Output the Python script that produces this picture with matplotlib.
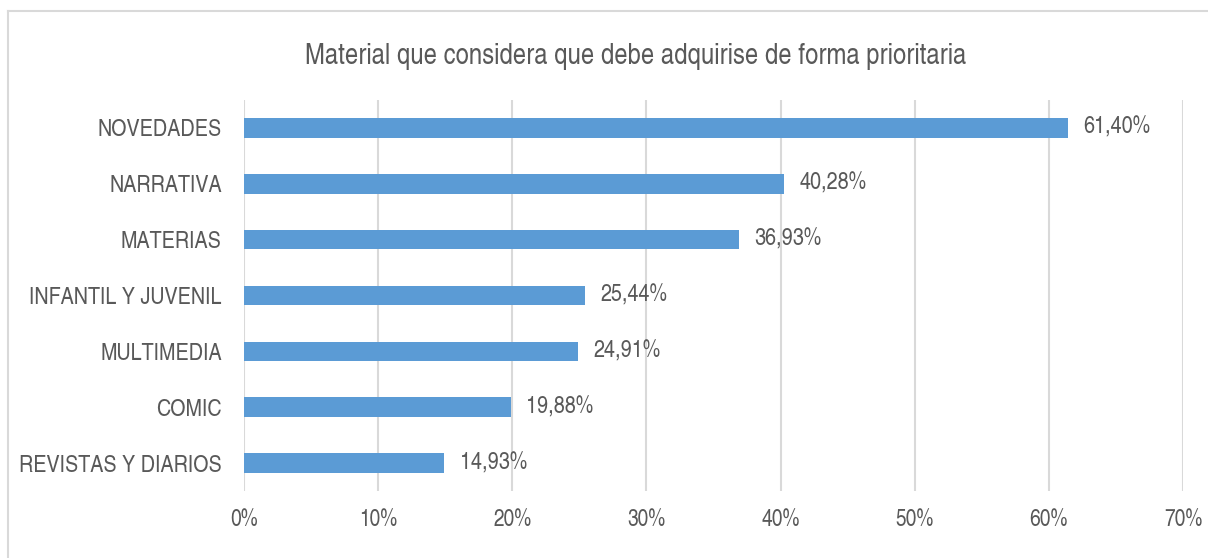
import matplotlib
matplotlib.use("Agg")
import matplotlib.pyplot as plt
from matplotlib.lines import Line2D
from matplotlib.ticker import MultipleLocator, FuncFormatter

categories = ["NOVEDADES", "NARRATIVA", "MATERIAS", "INFANTIL Y JUVENIL",
              "MULTIMEDIA", "COMIC", "REVISTAS Y DIARIOS"]
values = [61.40, 40.28, 36.93, 25.44, 24.91, 19.88, 14.93]
value_labels = ["61,40%", "40,28%", "36,93%", "25,44%", "24,91%", "19,88%", "14,93%"]
title = "Material que considera que debe adquirise de forma prioritaria"

FONT = ["TeX Gyre Heros Cn", "DejaVu Sans"]
plt.rcParams["font.family"] = FONT
TXT = "#595959"
BAR = "#5B9BD5"
GRID = "#D9D9D9"

W, H = 1208, 558
fig = plt.figure(figsize=(W / 100, H / 100), dpi=100)
ax = fig.add_axes([244 / W, 1 - 491 / H, (1183 - 244) / W, (491 - 100) / H])

n = len(categories)
ypos = list(range(n - 1, -1, -1))
ax.barh(ypos, values, height=0.35, color=BAR, zorder=3)
for y, v, lab in zip(ypos, values, value_labels):
    ax.annotate(lab, (v, y), xytext=(11, 0), textcoords="offset points",
                ha="left", va="center", fontsize=17.4, color=TXT)

ax.set_xlim(0, 70)
ax.set_ylim(-0.5, n - 0.5)
ax.xaxis.set_major_locator(MultipleLocator(10))
ax.xaxis.set_major_formatter(FuncFormatter(lambda x, p: f"{int(round(x))}%"))
ax.set_yticks(ypos)
ax.set_yticklabels(categories)
ax.tick_params(axis="x", length=0, pad=13, labelsize=16.8, labelcolor=TXT)
ax.tick_params(axis="y", length=0, pad=16, labelsize=17.3, labelcolor=TXT)
ax.grid(axis="x", color=GRID, linewidth=1.5, zorder=0)
for s in ax.spines.values():
    s.set_visible(False)

fig.text(636 / W, 1 - 57 / H, title, ha="center", va="center",
         fontsize=21, color=TXT)

# chart-area border (left and top edges visible in the crop)
fig.add_artist(Line2D([8 / W, 8 / W], [0, 1 - 11 / H], transform=fig.transFigure,
                      color=GRID, linewidth=1.5))
fig.add_artist(Line2D([8 / W, 1], [1 - 11 / H, 1 - 11 / H], transform=fig.transFigure,
                      color=GRID, linewidth=1.5))

fig.savefig("out.png", dpi=100)
